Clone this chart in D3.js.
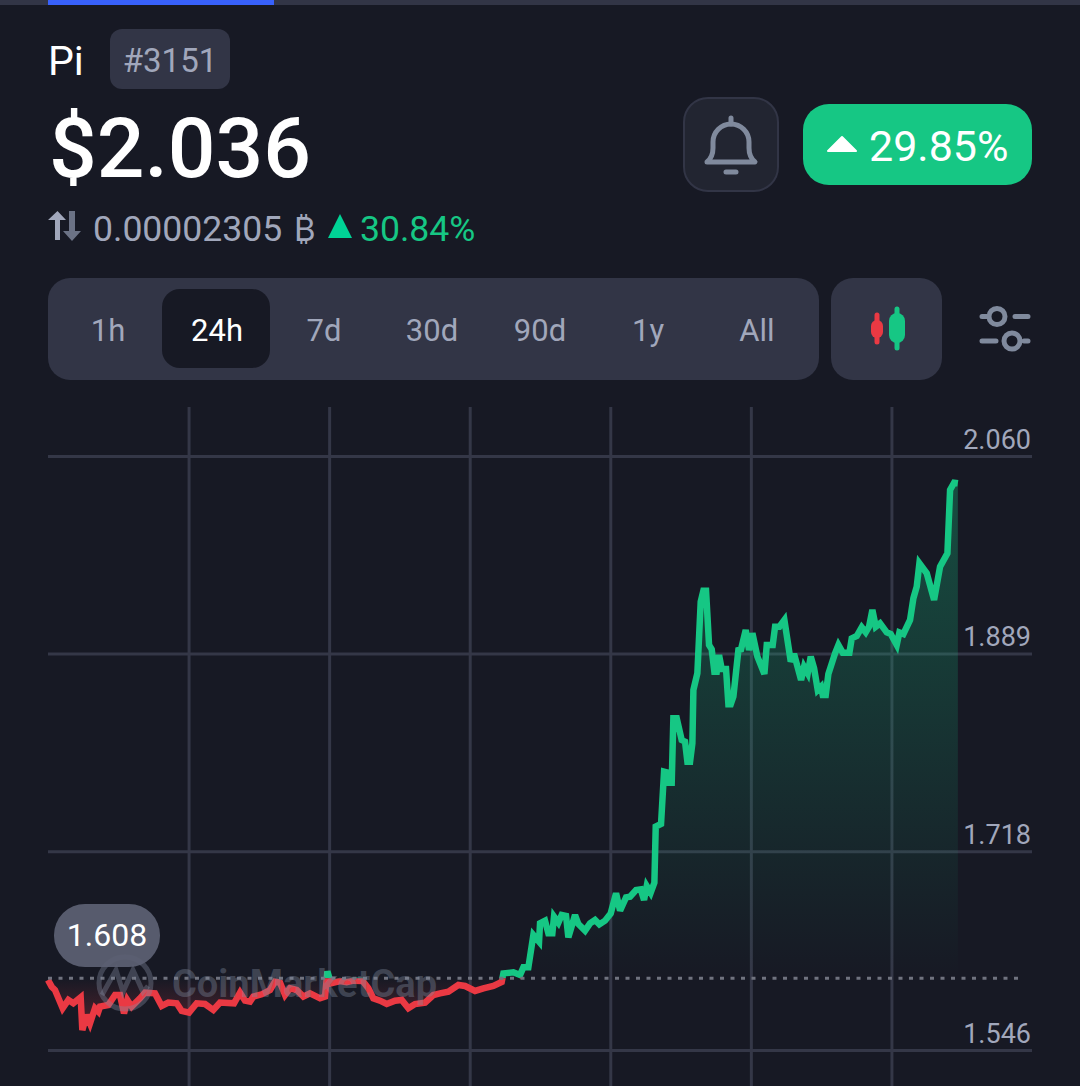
<!DOCTYPE html>
<html>
<head>
<meta charset="utf-8">
<script src="https://cdn.jsdelivr.net/npm/d3@7"></script>
<style>
  html, body { margin: 0; padding: 0; background: #171924; }
  svg { display: block; }
  text { font-family: Roboto, "Noto Sans", sans-serif; }
</style>
</head>
<body>
<svg id="chart" width="1080" height="1086"></svg>
<script>
// hours since the start of the window
const hours = [
  0, 0.104, 0.199, 0.417, 0.579, 0.721, 0.93, 0.977, 1.1, 1.195, 1.337, 1.432, 1.48, 1.717, 1.907, 2.049,
  2.163, 2.258, 2.381, 2.618, 2.76, 3.045, 3.235, 3.424, 3.662, 3.804, 4.013, 4.231, 4.468, 4.705, 4.895, 5.293,
  5.464, 5.606, 5.748, 5.843, 6.081, 6.318, 6.46, 6.602, 6.745, 6.887, 7.077, 7.266, 7.456, 7.741, 7.883, 7.95,
  8.05, 8.31, 8.5, 8.689, 8.955, 9.116, 9.258, 9.448, 9.638, 9.875, 10.065, 10.254, 10.444, 10.729, 10.966, 11.156,
  11.393, 11.677, 11.867, 12.152, 12.389, 12.673, 12.91, 12.958, 13.242, 13.432, 13.527, 13.669, 13.811, 13.973, 14.001, 14.143,
  14.238, 14.352, 14.399, 14.523, 14.618, 14.741, 14.807, 14.997, 15.092, 15.282, 15.424, 15.566, 15.689, 15.851, 16.012, 16.164,
  16.278, 16.448, 16.562, 16.733, 16.866, 16.961, 17.037, 17.15, 17.255, 17.293, 17.444, 17.53, 17.605, 17.634, 17.748, 17.795,
  17.89, 18.032, 18.127, 18.194, 18.27, 18.336, 18.365, 18.478, 18.573, 18.649, 18.725, 18.81, 18.886, 18.962, 19.029, 19.095,
  19.171, 19.294, 19.361, 19.427, 19.503, 19.645, 19.721, 19.854, 19.949, 20.044, 20.186, 20.385, 20.452, 20.622, 20.689, 20.812,
  20.954, 21.135, 21.229, 21.429, 21.514, 21.618, 21.704, 21.799, 21.903, 21.998, 22.045, 22.131, 22.206, 22.396, 22.491, 22.614,
  22.804, 22.87, 23.013, 23.155, 23.269, 23.364, 23.458, 23.554, 23.677, 23.867, 23.98, 24.151, 24.227, 24.341, 24.53, 24.625,
  24.72, 24.796, 25.005, 25.214, 25.384, 25.593, 25.669, 25.783, 25.89
];
const prices = [
  1.6066, 1.6008, 1.5979, 1.5821, 1.5893, 1.5864, 1.5916, 1.5633, 1.5763, 1.5691, 1.5821, 1.5792, 1.5835, 1.5849, 1.5936, 1.5936,
  1.5777, 1.5893, 1.5835, 1.5907, 1.5956, 1.595, 1.5841, 1.587, 1.5864, 1.5798, 1.5783, 1.5864, 1.5858, 1.5806, 1.587, 1.5864,
  1.5956, 1.5887, 1.5878, 1.5922, 1.5942, 1.5979, 1.6051, 1.6043, 1.5936, 1.5994, 1.5979, 1.5922, 1.595, 1.5907, 1.5922, 1.614,
  1.6037, 1.6057, 1.6046, 1.606, 1.6057, 1.5994, 1.5907, 1.5887, 1.5858, 1.5887, 1.5893, 1.5821, 1.5858, 1.587, 1.5936, 1.595,
  1.5965, 1.6023, 1.6014, 1.5971, 1.5994, 1.6014, 1.6048, 1.6123, 1.6132, 1.6109, 1.6175, 1.6175, 1.6455, 1.6397, 1.6556, 1.6579,
  1.647, 1.647, 1.6614, 1.6562, 1.6628, 1.662, 1.6435, 1.6628, 1.655, 1.6493, 1.6556, 1.6585, 1.6547, 1.6579, 1.6642, 1.6816,
  1.6666, 1.6781, 1.6787, 1.6844, 1.685, 1.6758, 1.6879, 1.6821, 1.6908, 1.7393, 1.7416, 1.7869, 1.7863, 1.7773, 1.7773, 1.833,
  1.833, 1.8142, 1.8128, 1.7955, 1.7955, 1.8114, 1.8575, 1.872, 1.934, 1.9435, 1.9435, 1.8965, 1.8927, 1.8734, 1.8734, 1.8878,
  1.8757, 1.8757, 1.8451, 1.8451, 1.8518, 1.8921, 1.8927, 1.9094, 1.8921, 1.9066, 1.8864, 1.8714, 1.8965, 1.8965, 1.9123, 1.9123,
  1.9181, 1.8821, 1.8887, 1.8662, 1.8777, 1.872, 1.8864, 1.8763, 1.8575, 1.8604, 1.8532, 1.8532, 1.8714, 1.8893, 1.8965, 1.8898,
  1.8898, 1.9022, 1.9042, 1.9118, 1.9074, 1.9123, 1.9268, 1.9123, 1.9152, 1.9074, 1.906, 1.8965, 1.9074, 1.906, 1.9181, 1.9369,
  1.947, 1.9671, 1.9585, 1.9354, 1.9643, 1.9758, 2.0306, 2.0369, 2.0364
];
const priceTicks = [1.546, 1.718, 1.889, 2.06];
const hourTicks = [4, 8, 12, 16, 20, 24];
const basePrice = 1.608;
const timeframes = ["1h", "24h", "7d", "30d", "90d", "1y", "All"];
const timeframeCenters = [108, 217, 324, 432, 540, 648, 757];

const BG = "#171924", PANEL = "#323546", GREEN = "#16c784", RED = "#ea3943";
const MUTED = "#a1a7bb", ICON = "#808a9d";

const svg = d3.select("#chart");
const data = hours.map((h, i) => ({ h, p: prices[i] }));

const x = d3.scaleLinear().domain([0, 28]).range([48, 1032]);
const y = d3.scaleLinear().domain([1.546, 2.06]).range([1050, 456]);
const baseY = y(basePrice);

function label(sel, str, px, py, size, fill, anchor = "start", weight = 400) {
  return sel.append("text").attr("x", px).attr("y", py)
    .attr("font-size", size).attr("fill", fill)
    .attr("font-weight", weight).attr("text-anchor", anchor).text(str);
}

function box(sel, x0, y0, w, h, r, fill) {
  return sel.append("rect").attr("x", x0).attr("y", y0)
    .attr("width", w).attr("height", h).attr("rx", r).attr("fill", fill);
}

// page header
const head = svg.append("g");
box(head, 0, 0, 1080, 5, 0, PANEL);
box(head, 48, 0, 226, 5, 0, "#3861fb");
label(head, "Pi", 48, 75, 41, "#fff");
box(head, 110, 29, 120, 60, 12, PANEL);
label(head, "#3151", 170, 72, 33, MUTED, "middle");
label(head, "$2.036", 49, 177, 84, "#fff", "start", 500);

head.append("path").attr("d", "M55 240V220H48L57.5 211L66 220H60V240Z").attr("fill", MUTED);
head.append("path").attr("d", "M69 211H75V231H81L72 241L63 231H69Z").attr("fill", "#6b7285");
label(head, "0.00002305", 93, 241, 35.6, MUTED);
label(head, "₿", 294, 241, 33, MUTED).style("font-family", "Inter");
head.append("path").attr("d", "M340 214L352 238H328Z").attr("fill", "#00d395");
label(head, "30.84%", 360, 241, 35.6, GREEN);

// bell button
box(head, 684, 98, 94, 93, 24, "#222531").attr("stroke", PANEL).attr("stroke-width", 2);
head.append("path")
  .attr("d", "M707 162Q713 157 713 148V142A18 18 0 0 1 749 142V148Q749 157 755 162Z")
  .attr("fill", "none").attr("stroke", ICON).attr("stroke-width", 5).attr("stroke-linejoin", "round");
head.append("path").attr("d", "M731 118V124M726 172H736")
  .attr("stroke", ICON).attr("stroke-width", 5).attr("stroke-linecap", "round");

// change button
box(head, 803, 104, 229, 81, 26, GREEN);
head.append("path").attr("d", "M842 137L856 151H828Z").attr("fill", "#fff")
  .attr("stroke", "#fff").attr("stroke-width", 2).attr("stroke-linejoin", "round");
label(head, "29.85%", 869, 161, 43, "#fff");

// timeframe tabs
box(head, 48, 278, 771, 102, 22, PANEL);
box(head, 162, 289, 108, 79, 18, BG);
timeframes.forEach((t, i) => {
  label(head, t, timeframeCenters[i], 341, 31, t === "24h" ? "#fff" : MUTED, "middle");
});

// candle button
box(head, 831, 278, 111, 102, 22, PANEL);
head.append("path").attr("d", "M877 315V342").attr("stroke", RED).attr("stroke-width", 5).attr("stroke-linecap", "round");
box(head, 871, 320, 12, 18, 6, RED);
head.append("path").attr("d", "M897 309V348").attr("stroke", GREEN).attr("stroke-width", 5).attr("stroke-linecap", "round");
box(head, 889, 313, 16, 30, 8, GREEN);

// sliders icon
head.append("path").attr("d", "M982 316.5H988M1015 316.5H1028M982 341H996M1024 341H1028")
  .attr("stroke", ICON).attr("stroke-width", 5).attr("stroke-linecap", "round");
[[997, 316.5], [1012, 341]].forEach(([cx, cy]) => {
  head.append("circle").attr("cx", cx).attr("cy", cy).attr("r", 8)
    .attr("fill", "none").attr("stroke", ICON).attr("stroke-width", 5);
});

// grid
const gridX = svg.append("g").attr("transform", "translate(0,1086)")
  .call(d3.axisBottom(x).tickValues(hourTicks).tickSize(-(1086 - 407)).tickFormat(""));
const gridY = svg.append("g").attr("transform", "translate(48,0)")
  .call(d3.axisRight(y).tickValues(priceTicks).tickSize(984).tickFormat(d3.format(".3f")));
gridX.select(".domain").remove();
gridY.select(".domain").remove();
svg.selectAll(".tick line").attr("stroke", "#343747").attr("stroke-width", 3);
gridY.selectAll(".tick text")
  .attr("x", 983).attr("dy", "-8").attr("text-anchor", "end")
  .attr("font-size", 27).attr("fill", MUTED)
  .style("font-family", "Roboto, 'Noto Sans', sans-serif");

// areas and line, split at the opening price
const defs = svg.append("defs");
defs.append("clipPath").attr("id", "above").append("rect")
  .attr("x", 0).attr("y", 0).attr("width", 1080).attr("height", baseY);
defs.append("clipPath").attr("id", "below").append("rect")
  .attr("x", 0).attr("y", baseY).attr("width", 1080).attr("height", 1086 - baseY);

function gradient(id, color, y1, y2, alpha1, alpha2) {
  const g = defs.append("linearGradient").attr("id", id)
    .attr("gradientUnits", "userSpaceOnUse")
    .attr("x1", 0).attr("x2", 0).attr("y1", y1).attr("y2", y2);
  g.append("stop").attr("offset", 0).attr("stop-color", color).attr("stop-opacity", alpha1);
  g.append("stop").attr("offset", 1).attr("stop-color", color).attr("stop-opacity", alpha2);
}
gradient("fillUp", GREEN, y(d3.max(prices)), baseY, 0.3, 0);
gradient("fillDown", RED, baseY, y(d3.min(prices)), 0, 0.3);

const area = d3.area().x(d => x(d.h)).y0(baseY).y1(d => y(d.p));
const line = d3.line().x(d => x(d.h)).y(d => y(d.p));

svg.append("path").datum(data).attr("d", area).attr("fill", "url(#fillUp)").attr("clip-path", "url(#above)");
svg.append("path").datum(data).attr("d", area).attr("fill", "url(#fillDown)").attr("clip-path", "url(#below)");

[["above", GREEN], ["below", RED]].forEach(([clip, color]) => {
  svg.append("path").datum(data).attr("d", line)
    .attr("fill", "none").attr("stroke", color).attr("stroke-width", 6.5)
    .attr("stroke-linejoin", "miter").attr("stroke-miterlimit", 3)
    .attr("clip-path", `url(#${clip})`);
});

// opening price line
svg.append("line").attr("x1", 48).attr("x2", 1020).attr("y1", baseY).attr("y2", baseY)
  .attr("stroke", "#70737f").attr("stroke-width", 3).attr("stroke-dasharray", "4 6.5");

// watermark
const mark = "rgba(128,138,157,0.38)";
const wm = svg.append("g");
wm.append("circle").attr("cx", 125).attr("cy", 983).attr("r", 26)
  .attr("fill", "none").attr("stroke", mark).attr("stroke-width", 5);
wm.append("path").attr("d", "M102 995L116 970L123 992L133 970L143 992L148 986")
  .attr("fill", "none").attr("stroke", mark).attr("stroke-width", 5);
label(wm, "CoinMarketCap", 172, 997, 38, mark, "start", 700);

// opening price badge
box(svg, 54, 904, 106, 63, 31, "rgba(93,97,115,0.93)");
label(svg, d3.format(".3f")(basePrice), 107, 946, 32, "#fff", "middle");
</script>
</body>
</html>
